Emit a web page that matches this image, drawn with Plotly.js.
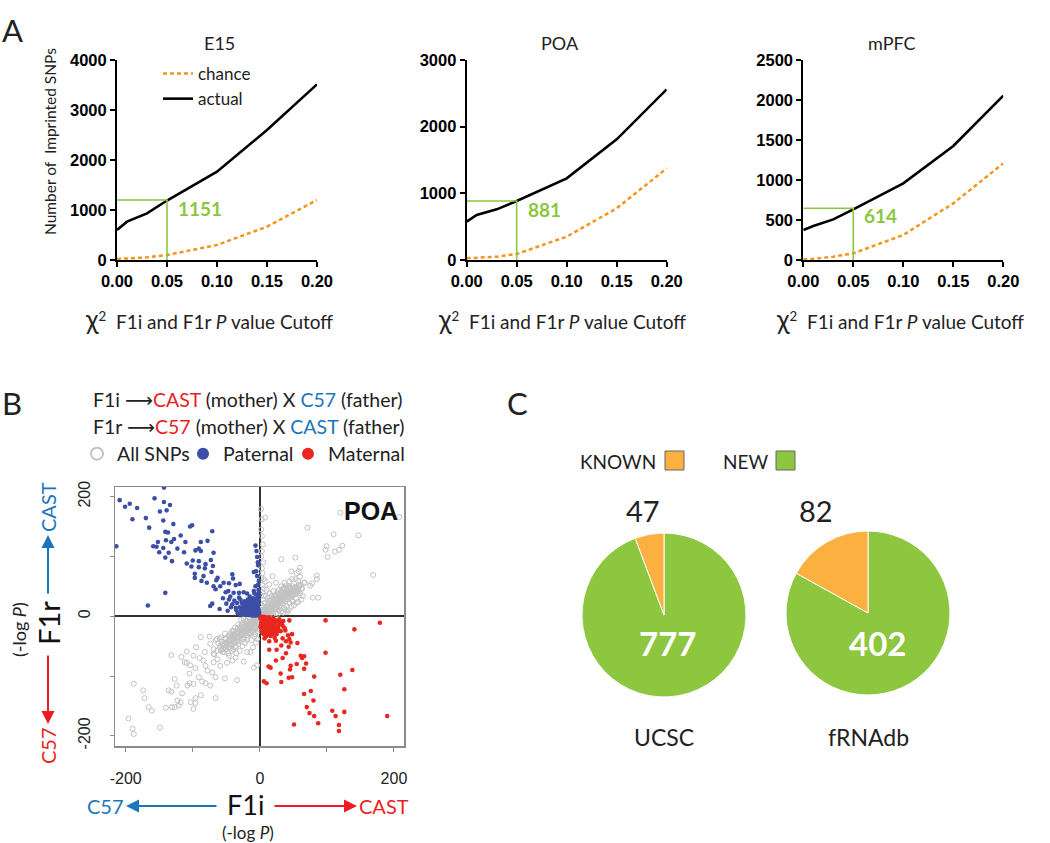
<!DOCTYPE html>
<html><head><meta charset="utf-8">
<script src="https://cdn.plot.ly/plotly-3.0.1.min.js"></script>
<style>html,body{margin:0;padding:0;background:#fff}#chart{width:1050px;height:843px}</style>
</head><body><div id="chart"></div>
<script>
// ---------- Panel A data ----------
const regions = ['E15', 'POA', 'mPFC'];
const cutoffs = [0, 0.01, 0.03, 0.05, 0.10, 0.15, 0.20];
const cutoffTicks = [0, 0.05, 0.10, 0.15, 0.20];
const e15Actual  = [600, 767, 933, 1190, 1767, 2600, 3513];
const e15Chance  = [20, 27, 53, 100, 300, 667, 1200];
const poaActual  = [575, 675, 760, 885, 1225, 1810, 2560];
const poaChance  = [25, 30, 50, 90, 350, 775, 1375];
const mpfcActual = [375, 425, 508, 633, 958, 1425, 2054];
const mpfcChance = [8, 15, 42, 83, 313, 708, 1208];
const yMax = [4000, 3000, 2500];
const yTickStep = [1000, 1000, 500];
const chosenCutoff = 0.05;
const cutoffLevel = [1200, 885, 646];
const cutoffCount = [1151, 881, 614];

// ---------- Panel B data (F1i -log P, F1r -log P) ----------
const allSnps = [
 [2,179],[8,165],[3,162],[2,145],[3,134],[4.5,120],[3,109],[120,173],[208,166],[71,148],[110,137],[147,135],
 [99.5,117],[98,111],[112,108],[118,111],[123,118],[101,99],[32,95],[53,98],[169,69],[60,81],[58,75],[55,72],
 [47,75],[85,68],[85,62],[75,51],[67,56],[78,55],[79,31],[87,31],[63,46],[49,25],[41,7],[49,50],[14,53],[19,67],
 [24,56],[37,56],[42,47],[57,59],[60,66],[53,62],[54,40],[47,34],[34,39],
 [-188,-113],[-174,-124],[-172,-137],[-166,-152],[-161,-158],[-196,-171],[-190,-188],[-188,-197],[-149,-186],
 [-140,-153],[-131,-152],[-127,-152],[-123,-141],[-118,-144],[-121,-149],[-116,-129],[-136,-124],[-132,-126],
 [-124,-116],[-127,-105],[-108,-116],[-105,-112],[-99,-113],[-103,-144],[-96,-145],[-99,-155],[-88,-132],
 [-96,-137],[-66,-137],[-132,-65],[-117,-68],[-109,-59],[-112,-77],[-109,-78],[-104,-82],[-105,-96],[-96,-87],
 [-91,-102],[-86,-109],[-81,-112],[-74,-116],[-88,-35],[-75,-34],[-95,-52],[-90,-70],[-84,-74],[-81,-83],
 [-78,-91],[-71,-94],[-66,-102],[-52,-104],[-34,-107],[-69,-77],[-63,-72],[-59,-83],[-49,-78],[-41,-74],
 [-69,-55],[-74,-46],[-59,-49],[-69,-63],[-54,-60],[-46,-66],[-36,-69],[-24,-76],[-19,-60],[-9,-86],[-4,-82],
 [-99,-66],[-82,-60],[-64,-38],[-59,-38],[-44,-41],
 [-2,-3],[-4,-2],[-5,-6],[-6,-9],[-8,-5],[-9,-12],[-10,-8],[-12,-15],[-13,-10],[-14,-18],[-15,-6],[-16,-13],
 [-17,-22],[-18,-16],[-19,-9],[-20,-20],[-21,-25],[-22,-14],[-23,-28],[-24,-19],[-25,-11],[-26,-24],[-27,-32],
 [-28,-17],[-29,-27],[-30,-22],[-31,-36],[-32,-14],[-33,-29],[-34,-40],[-35,-25],[-36,-33],[-37,-19],[-38,-44],
 [-39,-30],[-40,-38],[-41,-24],[-42,-47],[-43,-35],[-44,-28],[-45,-42],[-46,-52],[-47,-33],[-48,-45],[-50,-38],
 [-51,-56],[-52,-29],[-54,-48],[-55,-60],[-57,-42],[-58,-35],[-60,-52],[-62,-45],[-64,-58],[-66,-40],[-68,-64],
 [-3,-10],[-7,-18],[-11,-4],[-5,-15],[-9,-24],[-15,-30],[-3,-26],[-8,-34],[-12,-40],[-18,-36],[-22,-45],[-6,-44],
 [-10,-52],[-14,-60],[-2,-18],[-26,-50],[-30,-58],[-35,-62],[-20,-8],[-24,-4],[-16,-2],[-28,-6],[-32,-42],
 [-19,-40],[-13,-28],[-25,-38],[-7,-30],[-11,-20],[-37,-52],[-42,-58],[-47,-62],[-4,-38],[-1,-12],[-1,-22],
 [-3,-5],[-6,-3],[-7,-11],[-10,-14],[-11,-9],[-13,-16],[-14,-12],[-16,-19],[-17,-11],[-19,-22],[-20,-15],
 [-22,-24],[-23,-18],[-25,-27],[-26,-20],[-28,-30],[-29,-23],[-31,-33],[-32,-26],[-34,-36],[-35,-29],[-37,-39],
 [-38,-32],[-40,-42],[-41,-35],[-43,-45],[-44,-38],[-46,-48],[-47,-41],[-49,-51],[-50,-44],[-52,-53],[-53,-46],
 [-55,-55],[-56,-49],[-58,-58],[-8,-20],[-12,-25],[-16,-28],[-20,-32],[-24,-35],[-28,-39],[-32,-47],[-36,-50],
 [-40,-55],[-44,-53],[-15,-23],[-27,-14],[-33,-20],[-39,-25],[-45,-32],[-51,-37],
 [2,3],[3,6],[5,2],[6,9],[7,5],[8,12],[9,4],[10,8],[11,15],[12,6],[13,18],[14,11],[15,3],[16,21],[17,14],[18,8],
 [19,24],[20,17],[21,11],[22,27],[23,20],[24,5],[25,14],[26,30],[27,22],[28,10],[29,33],[30,18],[31,26],[32,8],
 [33,36],[34,21],[35,29],[36,14],[37,39],[38,25],[39,32],[40,17],[41,43],[42,28],[43,36],[44,22],[45,46],[46,31],
 [47,40],[48,26],[50,35],[52,48],[54,30],[56,42],[58,52],[60,38],[62,47],[64,34],[66,56],[4,14],[7,22],[5,28],
 [9,34],[3,40],[6,46],[12,30],[15,38],[10,44],[18,34],[20,42],[4,52],[8,58],[24,36],[28,44],[32,50],[36,44],
 [40,52],[44,58],[48,62],[3,18],[2,10],[6,34],[14,26],[22,34],[26,40],[30,34],[34,46],[38,36],[11,2],[19,3],
 [27,4],[35,6],[43,10],[51,18],[57,24],[62,28],[16,6],[23,12],[31,14],[39,10],[47,16],[55,22],[2,64],[4,72],
 [3,80],[5,90],[2,100],[6,62],[5,-3],[10,-2],
 [3,3],[5,5],[7,8],[9,10],[11,11],[13,13],[15,15],[17,17],[19,19],[21,20],[23,22],[25,24],[27,26],[29,27],
 [31,29],[33,31],[35,32],[37,34],[39,36],[41,37],[43,39],[45,41],[47,43],[49,45],[51,46],[53,44],[55,49],[57,47],
 [59,50],[61,52],[8,16],[12,21],[16,26],[20,30],[24,32],[28,37],[32,41],[36,48],[40,46],[44,50],[6,4],[10,5],
 [14,8],[18,12],[22,15],[26,18],[30,22],[34,25],[38,28],[42,32],[46,35],[50,40],[54,37],[58,42]
];
const paternal = [
 [-143,215],[-209,194],[-201,183],[-194,188],[-183,181],[-157,197],[-143,191],[-134,186],[-139,177],[-149,175],
 [-190,162],[-170,164],[-144,160],[-165,148],[-129,154],[-104,150],[-101,152],[-141,141],[-137,140],[-71,142],
 [-118,135],[-128,129],[-140,127],[-132,124],[-111,124],[-88,124],[-78,126],[-152,124],[-159,117],[-154,116],
 [-144,114],[-123,113],[-214,117],[-96,110],[-91,113],[-88,109],[-150,107],[-136,106],[-113,107],[-69,106],
 [-141,98],[-131,92],[-100,93],[-91,92],[-73,94],[-109,88],[-102,83],[-91,82],[-81,87],[-82,80],[-70,84],
 [-97,71],[-84,67],[-72,74],[-63,64],[-97,64],[-87,59],[-79,56],[-65,60],[-69,50],[-41,70],[-40,63],[-54,56],
 [-46,55],[-36,52],[-30,54],[-66,45],[-59,50],[-51,40],[-47,42],[-141,39],[-167,18],[-71,21],[-74,17],[-60,12],
 [-50,21],[-44,33],[-39,39],[-31,39],[-24,40],[-19,38],[-15,33],[-6.5,118],[-5,109],[-4,99],[-3,90],[-2.5,85],
 [-5.5,75],[-4,67],[-9,74],[-1.5,59],[-6.5,50],[-9,42],[-12,28],[-29,28],[-34,22],[-41,20],[-46,28],[-36,14],
 [-21,22],[-26,14],
 [-28,10],[-25,6],[-22,14],[-20,9],[-18,4],[-17,18],[-15,12],[-14,7],[-13,3],[-12,22],[-11,15],[-10,10],[-9,5],
 [-8,2],[-8,14],[-7,25],[-7,9],[-6,18],[-6,4],[-5,12],[-5,7],[-4,2],[-4,30],[-3,16],[-3,9],[-3,5],[-2,3],[-2,20],
 [-2,11],[-1,6],[-1,1],[-16,24],[-19,16],[-24,18],[-26,3],[-21,2],[-11,1],[-14,27],[-9,20],[-12,6],[-6,1],[-33,5],
 [-30,15],[-23,25],[-1,35],[-2,44],[-3,52],[-1,40],[-10,30],[-18,28],[-27,22],[-35,10],[-38,26],[-15,2],[-7,13],
 [-4,22],[-13,17],[-20,4],[-16,9],[-9,26],[-2,28],[-5,36],[-8,38],[-11,8],[-24,11],[-29,3],[-31,31],[-43,15],
 [-48,9],[-55,30]
];
const maternal = [
 [44,-7],[98,-7],[179,-11],[141,-22],[34,-16],[27,-21],[38,-24],[48,-30],[42,-32],[34,-37],[44,-38],[39,-42],
 [46,-44],[56,-45],[7,-37],[14,-42],[24,-41],[32,-49],[43,-51],[14,-56],[25,-56],[39,-62],[98,-61],[61,-66],
 [66,-67],[63,-70],[34,-70],[24,-74],[69,-79],[55,-80],[46,-83],[13,-84],[16,-86],[45,-89],[66,-88],[138,-90],
 [31,-96],[81,-101],[120,-98],[43,-103],[48,-102],[6,-109],[10,-112],[32,-110],[76,-125],[66,-130],[126,-122],
 [80,-141],[70,-152],[108,-158],[126,-160],[74,-162],[81,-167],[113,-167],[190,-167],[87,-179],[51,-181],
 [118,-182],[118,-192],
 [2,-2],[4,-5],[6,-3],[8,-8],[10,-4],[12,-10],[14,-6],[16,-14],[18,-9],[20,-18],[22,-12],[24,-22],[26,-8],[5,-12],
 [7,-16],[9,-20],[11,-24],[13,-18],[15,-28],[17,-22],[19,-5],[21,-26],[3,-9],[6,-22],[8,-27],[10,-14],[12,-30],
 [14,-2],[16,-33],[18,-16],[28,-15],[30,-10],[25,-30],[4,-18],[2,-14],[11,-7],[13,-12],[9,-11],[7,-6],[5,-7],
 [15,-19],[20,-3],[23,-7],[27,-20],[31,-25],[33,-13],[1,-4],[3,-24],[19,-30],[22,-36],[6,-1],[9,-2],[12,-3],
 [15,-10],[17,-12],[21,-15],[23,-17],[8,-13],[11,-17],[14,-21],[4,-28],[29,-5],[35,-8],[37,-20],[26,-25],
 [18,-24],[1,-18],[10,-33],[6,-30],[3,-1]
];
const scatterTicks = [-200, -100, 0, 100, 200];
const scatterTickText = ['-200', '', '0', '', '200'];

// ---------- Panel C data ----------
const pieSources = ['UCSC', 'fRNAdb'];
const knownCounts = [47, 82];
const newCounts = [777, 402];

// ---------- helpers / styles ----------
const W = 1050, H = 843;
const PX = x => x / W, PY = y => 1 - y / H;
const ORANGE = '#F7941D', GREEN = '#8CC63F', C57BLUE = '#1C75BC', CASTRED = '#ED1C24';
const PAT = '#3C4EA6', MAT = '#E8281E', GRAYPT = '#C2C2C2';
const PIE_GREEN = '#8DC63F', PIE_ORANGE = '#FBB040';
const TXT = 'Lato, "Open Sans", sans-serif';
const HELV = '"Liberation Sans", Arial, sans-serif';

const actualSets = [e15Actual, poaActual, mpfcActual];
const chanceSets = [e15Chance, poaChance, mpfcChance];
const xDomains = [[PX(117), PX(317)], [PX(466.7), PX(666.7)], [PX(803.3), PX(1003.3)]];
const aYDomain = [PY(260), PY(60)];

const bLegendFont = {family: TXT, size: 19.5, color: '#222'};
function bLegend(x) {
  return {x: PX(x), y: PY(454), xanchor: 'left', yanchor: 'middle', bgcolor: 'rgba(0,0,0,0)',
          font: bLegendFont, itemsizing: 'constant'};
}
const traces = [];
const layout = {
  width: W, height: H, margin: {l: 0, r: 0, t: 0, b: 0},
  paper_bgcolor: '#fff', plot_bgcolor: 'rgba(0,0,0,0)',
  showlegend: true, annotations: [], shapes: [],
  legend: {x: PX(158), y: PY(56), xanchor: 'left', yanchor: 'top', bgcolor: 'rgba(0,0,0,0)',
           font: {family: TXT, size: 17, color: '#222'}, traceorder: 'normal', itemwidth: 30},
  legend2: bLegend(77), legend3: bLegend(183), legend4: bLegend(288)
};

function lab(t, x, y, size, color, angle, extra) {
  layout.annotations.push(Object.assign({xref: 'paper', yref: 'paper', x: PX(x), y: PY(y), showarrow: false,
    xanchor: 'center', yanchor: 'middle', text: t, textangle: angle || 0,
    font: {family: TXT, size: size, color: color}}, extra || {}));
}
function arrow(hx, hy, ax, ay, color) {
  layout.annotations.push({xref: 'paper', yref: 'paper', x: PX(hx), y: PY(hy), ax: ax, ay: ay, text: '',
    showarrow: true, arrowhead: 2, arrowsize: 1.3, arrowwidth: 2, arrowcolor: color});
}

regions.forEach((reg, i) => {
  const s = i === 0 ? '' : String(i + 1);
  const xa = 'x' + s, ya = 'y' + s;
  traces.push({x: cutoffs, y: chanceSets[i], xaxis: xa, yaxis: ya, type: 'scatter', mode: 'lines',
    name: 'chance', showlegend: i === 0, legend: 'legend',
    line: {color: ORANGE, width: 2.5, dash: '4px,3px'}, hoverinfo: 'skip'});
  traces.push({x: cutoffs, y: actualSets[i], xaxis: xa, yaxis: ya, type: 'scatter', mode: 'lines',
    name: 'actual', showlegend: i === 0, legend: 'legend',
    line: {color: '#000', width: 2.6}, hoverinfo: 'skip'});
  traces.push({x: [0, chosenCutoff, chosenCutoff], y: [cutoffLevel[i], cutoffLevel[i], 0],
    xaxis: xa, yaxis: ya, type: 'scatter', mode: 'lines', showlegend: false,
    line: {color: GREEN, width: 1.6}, hoverinfo: 'skip'});
  const yt = [];
  for (let v = 0; v <= yMax[i]; v += yTickStep[i]) yt.push(v);
  const tf = {family: HELV, size: 16.5, weight: 'bold', color: '#000'};
  layout['xaxis' + s] = {domain: xDomains[i], anchor: ya, range: [0, 0.2], tickvals: cutoffTicks,
    tickformat: '.2f', ticks: 'outside', ticklen: 5, tickwidth: 2, tickcolor: '#000',
    showline: true, linewidth: 2, linecolor: '#000', showgrid: false, zeroline: false,
    tickfont: tf, fixedrange: true};
  layout['yaxis' + s] = {domain: aYDomain, anchor: xa, range: [0, yMax[i]], tickvals: yt,
    ticks: 'outside', ticklen: 5, tickwidth: 2, tickcolor: '#000',
    showline: true, linewidth: 2, linecolor: '#000', showgrid: false, zeroline: false,
    tickfont: tf, fixedrange: true};
  layout.annotations.push({xref: xa, yref: ya, x: chosenCutoff + 0.009, y: cutoffLevel[i] * 0.86,
    xanchor: 'left', yanchor: 'middle', showarrow: false, text: '<b>' + cutoffCount[i] + '</b>',
    font: {family: TXT, size: 19, color: GREEN}});
});

// Panel A titles & axis titles
const titleX = [219, 560, 892];
const xTitleX = [209, 562, 900];
regions.forEach((reg, i) => {
  lab(reg, titleX[i], 43, 18, '#222');
  lab('<span style="font-size:26px">χ</span><sup>2</sup>  F1i and F1r <i>P</i> value Cutoff',
      xTitleX[i], 319, 19, '#222');
});
lab('Number of  Imprinted SNPs', 50, 142, 15.5, '#222', -90);

// Panel labels
lab('A', 12, 30, 31, '#222');
lab('B', 12, 403, 31, '#222');
lab('C', 517, 403, 31, '#222');

// ---------- Panel B ----------
const sx = 'x4', sy = 'y4';
traces.push({x: allSnps.map(p => p[0]), y: allSnps.map(p => p[1]), xaxis: sx, yaxis: sy, type: 'scatter',
  mode: 'markers', name: 'All SNPs', legend: 'legend2',
  marker: {symbol: 'circle-open', size: 5, color: GRAYPT, line: {width: 1}}, hoverinfo: 'skip'});
traces.push({x: paternal.map(p => p[0]), y: paternal.map(p => p[1]), xaxis: sx, yaxis: sy, type: 'scatter',
  mode: 'markers', name: 'Paternal', legend: 'legend3',
  marker: {symbol: 'circle', size: 4.6, color: PAT}, hoverinfo: 'skip'});
traces.push({x: maternal.map(p => p[0]), y: maternal.map(p => p[1]), xaxis: sx, yaxis: sy, type: 'scatter',
  mode: 'markers', name: 'Maternal', legend: 'legend4',
  marker: {symbol: 'circle', size: 4.6, color: MAT}, hoverinfo: 'skip'});

const bAxis = {ticks: 'outside', ticklen: 4, tickwidth: 1, tickcolor: '#888', tickvals: scatterTicks,
  ticktext: scatterTickText, showline: true, mirror: true, linecolor: '#8a8a8a', linewidth: 1.5,
  zeroline: true, zerolinecolor: '#333', zerolinewidth: 1.5, showgrid: false, fixedrange: true,
  ticklabelstandoff: 13, tickfont: {family: HELV, size: 16, color: '#222'}};
layout.xaxis4 = Object.assign({}, bAxis, {domain: [PX(115), PX(404)], anchor: sy, range: [-216, 215]});
layout.yaxis4 = Object.assign({}, bAxis, {domain: [PY(746), PY(487)], anchor: sx, range: [-217, 216], tickangle: -90});
layout.annotations.push({xref: 'x4 domain', yref: 'y4 domain', x: 0.985, y: 0.97, xanchor: 'right', yanchor: 'top',
  showarrow: false, text: '<b>POA</b>', font: {family: HELV, size: 25, color: '#111'}});

const arrowGlyph = '<span style="font-family:DejaVu Sans">⟶</span>';
lab('F1i ' + arrowGlyph + '<span style="color:' + CASTRED + '">CAST</span> (mother) X <span style="color:' + C57BLUE + '">C57</span> (father)',
    91, 400, 19.5, '#222', 0, {xanchor: 'left'});
lab('F1r ' + arrowGlyph + '<span style="color:' + CASTRED + '">C57</span> (mother) X <span style="color:' + C57BLUE + '">CAST</span> (father)',
    91, 427, 19.5, '#222', 0, {xanchor: 'left'});

lab('CAST', 48, 507, 20, C57BLUE, -90);
arrow(48, 535, 0, 60, C57BLUE);
lab('F1r', 48, 623, 29, '#111', -90);
lab('(-log <i>P</i>)', 19, 630, 18, '#222', -90);
arrow(48, 724, 0, -70, CASTRED);
lab('C57', 48, 746, 20, CASTRED, -90);
lab('C57', 105, 806, 20, C57BLUE);
arrow(126, 806, 92, 0, C57BLUE);
lab('F1i', 245, 804, 27, '#111');
arrow(357, 806, -84, 0, CASTRED);
lab('CAST', 384, 806, 20, CASTRED);
lab('(-log <i>P</i>)', 248, 832.5, 17, '#222');

// ---------- Panel C ----------
const pieDomains = [
  {x: [PX(582), PX(746)], y: [PY(697), PY(533)]},
  {x: [PX(786), PX(950)], y: [PY(695), PY(531)]}
];
const pieCx = [664, 868], pieTopLabelX = [643, 816], pieInX = [667, 877];
pieSources.forEach((src, i) => {
  traces.push({type: 'pie', values: [newCounts[i], knownCounts[i]], labels: ['NEW', 'KNOWN'],
    marker: {colors: [PIE_GREEN, PIE_ORANGE], line: {color: '#fff', width: 1}}, sort: false,
    direction: 'clockwise', rotation: 0, textinfo: 'none', hoverinfo: 'skip', showlegend: false,
    domain: pieDomains[i]});
  lab(String(knownCounts[i]), pieTopLabelX[i], 510, 29, '#222');
  lab('<b>' + newCounts[i] + '</b>', pieInX[i], 643, 33, '#fff');
  lab(src, pieCx[i], 737, 23, '#222');
});
lab('KNOWN', 658, 461, 19, '#222', 0, {xanchor: 'right'});
lab('NEW', 770, 461, 19, '#222', 0, {xanchor: 'right'});
layout.shapes.push({type: 'rect', xref: 'paper', yref: 'paper', x0: PX(665), x1: PX(684), y0: PY(470), y1: PY(451),
  fillcolor: PIE_ORANGE, line: {color: '#666', width: 1}});
layout.shapes.push({type: 'rect', xref: 'paper', yref: 'paper', x0: PX(776), x1: PX(795), y0: PY(470), y1: PY(451),
  fillcolor: PIE_GREEN, line: {color: '#666', width: 1}});

Plotly.newPlot('chart', traces, layout, {displayModeBar: false, staticPlot: true});
</script></body></html>
